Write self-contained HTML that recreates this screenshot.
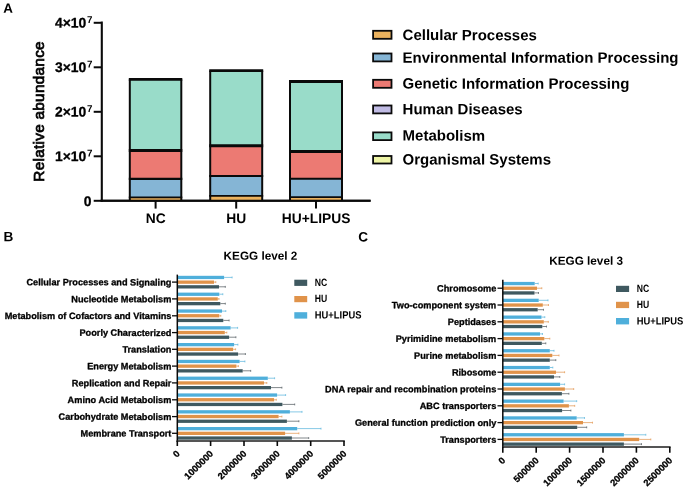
<!DOCTYPE html><html><head><meta charset="utf-8"><title>KEGG</title><style>
html,body{margin:0;padding:0;background:#fff;}
svg{display:block;will-change:transform;}
text{font-family:"Liberation Sans",sans-serif;font-weight:bold;fill:#000;}
.s{stroke:#000;stroke-width:0.3px;stroke-linejoin:round;}
</style></head><body>
<svg width="685" height="489" viewBox="0 0 685 489">
<rect x="0" y="0" width="685" height="489" fill="#ffffff"/>
<text transform="translate(3.2,12.7) rotate(0.03)" font-size="13.4">A</text>
<text transform="translate(44.3,111.4) rotate(-90)" text-anchor="middle" font-size="15.3" style="font-weight:normal;stroke:#000;stroke-width:0.75px;letter-spacing:0.3px">Relative abundance</text>
<line x1="101.8" y1="21.5" x2="101.8" y2="201.75" stroke="#0a0a0a" stroke-width="2.1"/>
<line x1="100.7" y1="200.8" x2="370.6" y2="200.8" stroke="#0a0a0a" stroke-width="1.9"/>
<line x1="93.7" y1="200.8" x2="101" y2="200.8" stroke="#0a0a0a" stroke-width="2"/>
<text transform="translate(91.4,206.1) rotate(0.03)" text-anchor="end" font-size="13.9" class="s">0</text>
<line x1="93.7" y1="156.3" x2="101" y2="156.3" stroke="#0a0a0a" stroke-width="2"/>
<text transform="translate(86.2,161.1) rotate(0.03)" text-anchor="end" font-size="13.9" class="s">1×10</text>
<text transform="translate(87.0,156.6) rotate(0.03)" font-size="9.8">7</text>
<line x1="93.7" y1="111.8" x2="101" y2="111.8" stroke="#0a0a0a" stroke-width="2"/>
<text transform="translate(86.2,116.6) rotate(0.03)" text-anchor="end" font-size="13.9" class="s">2×10</text>
<text transform="translate(87.0,112.1) rotate(0.03)" font-size="9.8">7</text>
<line x1="93.7" y1="67.3" x2="101" y2="67.3" stroke="#0a0a0a" stroke-width="2"/>
<text transform="translate(86.2,72.1) rotate(0.03)" text-anchor="end" font-size="13.9" class="s">3×10</text>
<text transform="translate(87.0,67.6) rotate(0.03)" font-size="9.8">7</text>
<line x1="93.7" y1="22.8" x2="101" y2="22.8" stroke="#0a0a0a" stroke-width="2"/>
<text transform="translate(86.2,27.6) rotate(0.03)" text-anchor="end" font-size="13.9" class="s">4×10</text>
<text transform="translate(87.0,23.1) rotate(0.03)" font-size="9.8">7</text>
<rect x="129.8" y="79.4" width="51.5" height="71.1" fill="#99DCC9"/>
<rect x="129.8" y="150.5" width="51.5" height="28.4" fill="#EC7A73"/>
<rect x="129.8" y="178.9" width="51.5" height="18.5" fill="#85B5D5"/>
<rect x="129.8" y="197.4" width="51.5" height="3.4" fill="#EBB25E"/>
<line x1="128.8" y1="197.4" x2="182.3" y2="197.4" stroke="#0a0a0a" stroke-width="1.7"/>
<line x1="128.8" y1="178.9" x2="182.3" y2="178.9" stroke="#0a0a0a" stroke-width="2.1"/>
<line x1="128.8" y1="150.5" x2="182.3" y2="150.5" stroke="#0a0a0a" stroke-width="3.2"/>
<line x1="128.8" y1="79.4" x2="182.3" y2="79.4" stroke="#0a0a0a" stroke-width="2.6"/>
<line x1="129.8" y1="79.4" x2="129.8" y2="200.8" stroke="#0a0a0a" stroke-width="2"/>
<line x1="181.3" y1="79.4" x2="181.3" y2="200.8" stroke="#0a0a0a" stroke-width="2"/>
<line x1="155.6" y1="200.8" x2="155.6" y2="208.6" stroke="#0a0a0a" stroke-width="2"/>
<text transform="translate(155.7,223.1) rotate(0.03)" text-anchor="middle" font-size="13.8">NC</text>
<rect x="210.2" y="70.6" width="52.0" height="75.2" fill="#99DCC9"/>
<rect x="210.2" y="145.8" width="52.0" height="30.2" fill="#EC7A73"/>
<rect x="210.2" y="176.0" width="52.0" height="19.8" fill="#85B5D5"/>
<rect x="210.2" y="195.8" width="52.0" height="5.0" fill="#EBB25E"/>
<line x1="209.2" y1="195.8" x2="263.2" y2="195.8" stroke="#0a0a0a" stroke-width="1.7"/>
<line x1="209.2" y1="176.0" x2="263.2" y2="176.0" stroke="#0a0a0a" stroke-width="2.1"/>
<line x1="209.2" y1="145.8" x2="263.2" y2="145.8" stroke="#0a0a0a" stroke-width="3.0"/>
<line x1="209.2" y1="70.6" x2="263.2" y2="70.6" stroke="#0a0a0a" stroke-width="2.6"/>
<line x1="210.2" y1="70.6" x2="210.2" y2="200.8" stroke="#0a0a0a" stroke-width="2"/>
<line x1="262.2" y1="70.6" x2="262.2" y2="200.8" stroke="#0a0a0a" stroke-width="2"/>
<line x1="236.2" y1="200.8" x2="236.2" y2="208.6" stroke="#0a0a0a" stroke-width="2"/>
<text transform="translate(236.3,223.1) rotate(0.03)" text-anchor="middle" font-size="13.8">HU</text>
<rect x="290.0" y="81.5" width="52.0" height="69.9" fill="#99DCC9"/>
<rect x="290.0" y="151.4" width="52.0" height="27.3" fill="#EC7A73"/>
<rect x="290.0" y="178.7" width="52.0" height="18.4" fill="#85B5D5"/>
<rect x="290.0" y="197.1" width="52.0" height="3.7" fill="#EBB25E"/>
<line x1="289.0" y1="197.1" x2="343.0" y2="197.1" stroke="#0a0a0a" stroke-width="1.7"/>
<line x1="289.0" y1="178.7" x2="343.0" y2="178.7" stroke="#0a0a0a" stroke-width="2.1"/>
<line x1="289.0" y1="151.4" x2="343.0" y2="151.4" stroke="#0a0a0a" stroke-width="3.0"/>
<line x1="289.0" y1="81.5" x2="343.0" y2="81.5" stroke="#0a0a0a" stroke-width="2.8"/>
<line x1="290.0" y1="81.5" x2="290.0" y2="200.8" stroke="#0a0a0a" stroke-width="2"/>
<line x1="342.0" y1="81.5" x2="342.0" y2="200.8" stroke="#0a0a0a" stroke-width="2"/>
<line x1="316.0" y1="200.8" x2="316.0" y2="208.6" stroke="#0a0a0a" stroke-width="2"/>
<text transform="translate(316.1,223.1) rotate(0.03)" text-anchor="middle" font-size="13.8">HU+LIPUS</text>
<line x1="100.7" y1="200.8" x2="370.6" y2="200.8" stroke="#0a0a0a" stroke-width="1.9"/>
<rect x="373.1" y="30.8" width="18.4" height="8.0" fill="#EBB25E" stroke="#0a0a0a" stroke-width="1.8"/>
<text transform="translate(402.6,40.1) rotate(0.03)" font-size="15">Cellular Processes</text>
<rect x="373.1" y="53.5" width="18.4" height="7.9" fill="#85B5D5" stroke="#0a0a0a" stroke-width="1.8"/>
<text transform="translate(402.6,62.7) rotate(0.03)" font-size="15">Environmental Information Processing</text>
<rect x="373.1" y="79.8" width="18.4" height="8.0" fill="#EC7A73" stroke="#0a0a0a" stroke-width="1.8"/>
<text transform="translate(402.6,88.6) rotate(0.03)" font-size="15">Genetic Information Processing</text>
<rect x="373.1" y="105.5" width="18.4" height="7.9" fill="#C0BBE4" stroke="#0a0a0a" stroke-width="1.8"/>
<text transform="translate(402.6,114.2) rotate(0.03)" font-size="15">Human Diseases</text>
<rect x="373.1" y="132.4" width="18.4" height="7.7" fill="#99DCC9" stroke="#0a0a0a" stroke-width="1.8"/>
<text transform="translate(402.6,140.6) rotate(0.03)" font-size="15">Metabolism</text>
<rect x="373.1" y="156.0" width="18.4" height="7.5" fill="#EEF5A6" stroke="#0a0a0a" stroke-width="1.8"/>
<text transform="translate(402.6,164.5) rotate(0.03)" font-size="15">Organismal Systems</text>
<text transform="translate(3.5,241.3) rotate(0.03)" font-size="13.6">B</text>
<text transform="translate(260.5,259.8) rotate(0.03)" text-anchor="middle" font-size="11.75">KEGG level 2</text>
<rect x="177.3" y="275.8" width="46.8" height="3.3" fill="#4FAFDB"/>
<line x1="224.1" y1="277.4" x2="232.1" y2="277.4" stroke="#5fb7de" stroke-width="0.75"/>
<line x1="232.1" y1="276.5" x2="232.1" y2="278.4" stroke="#5fb7de" stroke-width="0.75"/>
<rect x="177.3" y="280.5" width="36.7" height="3.3" fill="#E0934A"/>
<line x1="214.0" y1="282.1" x2="215.8" y2="282.1" stroke="#e39a55" stroke-width="0.75"/>
<line x1="215.8" y1="281.2" x2="215.8" y2="283.1" stroke="#e39a55" stroke-width="0.75"/>
<rect x="177.3" y="285.2" width="41.7" height="3.3" fill="#3F5960"/>
<line x1="219.0" y1="286.8" x2="225.3" y2="286.8" stroke="#555f63" stroke-width="0.75"/>
<line x1="225.3" y1="285.9" x2="225.3" y2="287.8" stroke="#555f63" stroke-width="0.75"/>
<line x1="172.0" y1="282.1" x2="177.3" y2="282.1" stroke="#0a0a0a" stroke-width="1.3"/>
<text transform="translate(171.4,285.4) rotate(0.03)" text-anchor="end" font-size="9.2" class="s">Cellular Processes and Signaling</text>
<rect x="177.3" y="292.6" width="42.0" height="3.3" fill="#4FAFDB"/>
<line x1="219.3" y1="294.2" x2="222.8" y2="294.2" stroke="#5fb7de" stroke-width="0.75"/>
<line x1="222.8" y1="293.3" x2="222.8" y2="295.2" stroke="#5fb7de" stroke-width="0.75"/>
<rect x="177.3" y="297.3" width="40.5" height="3.3" fill="#E0934A"/>
<line x1="217.8" y1="298.9" x2="219.0" y2="298.9" stroke="#e39a55" stroke-width="0.75"/>
<line x1="219.0" y1="298.0" x2="219.0" y2="299.9" stroke="#e39a55" stroke-width="0.75"/>
<rect x="177.3" y="302.0" width="43.0" height="3.3" fill="#3F5960"/>
<line x1="220.3" y1="303.6" x2="225.3" y2="303.6" stroke="#555f63" stroke-width="0.75"/>
<line x1="225.3" y1="302.7" x2="225.3" y2="304.6" stroke="#555f63" stroke-width="0.75"/>
<line x1="172.0" y1="298.9" x2="177.3" y2="298.9" stroke="#0a0a0a" stroke-width="1.3"/>
<text transform="translate(171.4,302.2) rotate(0.03)" text-anchor="end" font-size="9.2" class="s">Nucleotide Metabolism</text>
<rect x="177.3" y="309.4" width="44.7" height="3.3" fill="#4FAFDB"/>
<line x1="222.0" y1="311.1" x2="225.8" y2="311.1" stroke="#5fb7de" stroke-width="0.75"/>
<line x1="225.8" y1="310.1" x2="225.8" y2="312.0" stroke="#5fb7de" stroke-width="0.75"/>
<rect x="177.3" y="314.1" width="42.0" height="3.3" fill="#E0934A"/>
<line x1="219.3" y1="315.8" x2="220.8" y2="315.8" stroke="#e39a55" stroke-width="0.75"/>
<line x1="220.8" y1="314.8" x2="220.8" y2="316.7" stroke="#e39a55" stroke-width="0.75"/>
<rect x="177.3" y="318.8" width="46.0" height="3.3" fill="#3F5960"/>
<line x1="223.3" y1="320.4" x2="229.1" y2="320.4" stroke="#555f63" stroke-width="0.75"/>
<line x1="229.1" y1="319.5" x2="229.1" y2="321.4" stroke="#555f63" stroke-width="0.75"/>
<line x1="172.0" y1="315.8" x2="177.3" y2="315.8" stroke="#0a0a0a" stroke-width="1.3"/>
<text transform="translate(171.4,319.1) rotate(0.03)" text-anchor="end" font-size="9.2" class="s">Metabolism of Cofactors and Vitamins</text>
<rect x="177.3" y="326.2" width="53.3" height="3.3" fill="#4FAFDB"/>
<line x1="230.6" y1="327.9" x2="237.6" y2="327.9" stroke="#5fb7de" stroke-width="0.75"/>
<line x1="237.6" y1="326.9" x2="237.6" y2="328.8" stroke="#5fb7de" stroke-width="0.75"/>
<rect x="177.3" y="330.9" width="47.5" height="3.3" fill="#E0934A"/>
<line x1="224.8" y1="332.6" x2="226.8" y2="332.6" stroke="#e39a55" stroke-width="0.75"/>
<line x1="226.8" y1="331.6" x2="226.8" y2="333.5" stroke="#e39a55" stroke-width="0.75"/>
<rect x="177.3" y="335.6" width="51.8" height="3.3" fill="#3F5960"/>
<line x1="229.1" y1="337.2" x2="235.9" y2="337.2" stroke="#555f63" stroke-width="0.75"/>
<line x1="235.9" y1="336.3" x2="235.9" y2="338.2" stroke="#555f63" stroke-width="0.75"/>
<line x1="172.0" y1="332.6" x2="177.3" y2="332.6" stroke="#0a0a0a" stroke-width="1.3"/>
<text transform="translate(171.4,335.9) rotate(0.03)" text-anchor="end" font-size="9.2" class="s">Poorly Characterized</text>
<rect x="177.3" y="343.0" width="56.8" height="3.3" fill="#4FAFDB"/>
<line x1="234.1" y1="344.6" x2="237.9" y2="344.6" stroke="#5fb7de" stroke-width="0.75"/>
<line x1="237.9" y1="343.7" x2="237.9" y2="345.6" stroke="#5fb7de" stroke-width="0.75"/>
<rect x="177.3" y="347.7" width="55.8" height="3.3" fill="#E0934A"/>
<line x1="233.1" y1="349.3" x2="235.6" y2="349.3" stroke="#e39a55" stroke-width="0.75"/>
<line x1="235.6" y1="348.4" x2="235.6" y2="350.3" stroke="#e39a55" stroke-width="0.75"/>
<rect x="177.3" y="352.4" width="60.8" height="3.3" fill="#3F5960"/>
<line x1="238.1" y1="354.0" x2="245.4" y2="354.0" stroke="#555f63" stroke-width="0.75"/>
<line x1="245.4" y1="353.1" x2="245.4" y2="355.0" stroke="#555f63" stroke-width="0.75"/>
<line x1="172.0" y1="349.3" x2="177.3" y2="349.3" stroke="#0a0a0a" stroke-width="1.3"/>
<text transform="translate(171.4,352.6) rotate(0.03)" text-anchor="end" font-size="9.2" class="s">Translation</text>
<rect x="177.3" y="359.8" width="62.3" height="3.3" fill="#4FAFDB"/>
<line x1="239.6" y1="361.4" x2="244.9" y2="361.4" stroke="#5fb7de" stroke-width="0.75"/>
<line x1="244.9" y1="360.5" x2="244.9" y2="362.4" stroke="#5fb7de" stroke-width="0.75"/>
<rect x="177.3" y="364.5" width="59.1" height="3.3" fill="#E0934A"/>
<line x1="236.4" y1="366.1" x2="238.4" y2="366.1" stroke="#e39a55" stroke-width="0.75"/>
<line x1="238.4" y1="365.2" x2="238.4" y2="367.1" stroke="#e39a55" stroke-width="0.75"/>
<rect x="177.3" y="369.2" width="65.4" height="3.3" fill="#3F5960"/>
<line x1="242.7" y1="370.8" x2="250.7" y2="370.8" stroke="#555f63" stroke-width="0.75"/>
<line x1="250.7" y1="369.9" x2="250.7" y2="371.8" stroke="#555f63" stroke-width="0.75"/>
<line x1="172.0" y1="366.1" x2="177.3" y2="366.1" stroke="#0a0a0a" stroke-width="1.3"/>
<text transform="translate(171.4,369.4) rotate(0.03)" text-anchor="end" font-size="9.2" class="s">Energy Metabolism</text>
<rect x="177.3" y="376.6" width="90.5" height="3.3" fill="#4FAFDB"/>
<line x1="267.8" y1="378.2" x2="274.6" y2="378.2" stroke="#5fb7de" stroke-width="0.75"/>
<line x1="274.6" y1="377.3" x2="274.6" y2="379.2" stroke="#5fb7de" stroke-width="0.75"/>
<rect x="177.3" y="381.3" width="86.7" height="3.3" fill="#E0934A"/>
<line x1="264.0" y1="382.9" x2="266.8" y2="382.9" stroke="#e39a55" stroke-width="0.75"/>
<line x1="266.8" y1="382.0" x2="266.8" y2="383.9" stroke="#e39a55" stroke-width="0.75"/>
<rect x="177.3" y="386.0" width="93.7" height="3.3" fill="#3F5960"/>
<line x1="271.0" y1="387.6" x2="281.9" y2="387.6" stroke="#555f63" stroke-width="0.75"/>
<line x1="281.9" y1="386.7" x2="281.9" y2="388.6" stroke="#555f63" stroke-width="0.75"/>
<line x1="172.0" y1="382.9" x2="177.3" y2="382.9" stroke="#0a0a0a" stroke-width="1.3"/>
<text transform="translate(171.4,386.2) rotate(0.03)" text-anchor="end" font-size="9.2" class="s">Replication and Repair</text>
<rect x="177.3" y="393.4" width="99.8" height="3.3" fill="#4FAFDB"/>
<line x1="277.1" y1="395.1" x2="285.6" y2="395.1" stroke="#5fb7de" stroke-width="0.75"/>
<line x1="285.6" y1="394.1" x2="285.6" y2="396.0" stroke="#5fb7de" stroke-width="0.75"/>
<rect x="177.3" y="398.1" width="96.8" height="3.3" fill="#E0934A"/>
<line x1="274.1" y1="399.8" x2="276.3" y2="399.8" stroke="#e39a55" stroke-width="0.75"/>
<line x1="276.3" y1="398.8" x2="276.3" y2="400.7" stroke="#e39a55" stroke-width="0.75"/>
<rect x="177.3" y="402.8" width="105.1" height="3.3" fill="#3F5960"/>
<line x1="282.4" y1="404.4" x2="294.7" y2="404.4" stroke="#555f63" stroke-width="0.75"/>
<line x1="294.7" y1="403.5" x2="294.7" y2="405.4" stroke="#555f63" stroke-width="0.75"/>
<line x1="172.0" y1="399.8" x2="177.3" y2="399.8" stroke="#0a0a0a" stroke-width="1.3"/>
<text transform="translate(171.4,403.1) rotate(0.03)" text-anchor="end" font-size="9.2" class="s">Amino Acid Metabolism</text>
<rect x="177.3" y="410.2" width="112.6" height="3.3" fill="#4FAFDB"/>
<line x1="289.9" y1="411.9" x2="302.0" y2="411.9" stroke="#5fb7de" stroke-width="0.75"/>
<line x1="302.0" y1="410.9" x2="302.0" y2="412.8" stroke="#5fb7de" stroke-width="0.75"/>
<rect x="177.3" y="414.9" width="101.3" height="3.3" fill="#E0934A"/>
<line x1="278.6" y1="416.6" x2="281.9" y2="416.6" stroke="#e39a55" stroke-width="0.75"/>
<line x1="281.9" y1="415.6" x2="281.9" y2="417.5" stroke="#e39a55" stroke-width="0.75"/>
<rect x="177.3" y="419.6" width="109.6" height="3.3" fill="#3F5960"/>
<line x1="286.9" y1="421.2" x2="298.9" y2="421.2" stroke="#555f63" stroke-width="0.75"/>
<line x1="298.9" y1="420.3" x2="298.9" y2="422.2" stroke="#555f63" stroke-width="0.75"/>
<line x1="172.0" y1="416.6" x2="177.3" y2="416.6" stroke="#0a0a0a" stroke-width="1.3"/>
<text transform="translate(171.4,419.9) rotate(0.03)" text-anchor="end" font-size="9.2" class="s">Carbohydrate Metabolism</text>
<rect x="177.3" y="427.0" width="119.9" height="3.3" fill="#4FAFDB"/>
<line x1="297.2" y1="428.6" x2="321.0" y2="428.6" stroke="#5fb7de" stroke-width="0.75"/>
<line x1="321.0" y1="427.7" x2="321.0" y2="429.6" stroke="#5fb7de" stroke-width="0.75"/>
<rect x="177.3" y="431.7" width="107.8" height="3.3" fill="#E0934A"/>
<line x1="285.1" y1="433.3" x2="298.9" y2="433.3" stroke="#e39a55" stroke-width="0.75"/>
<line x1="298.9" y1="432.4" x2="298.9" y2="434.3" stroke="#e39a55" stroke-width="0.75"/>
<rect x="177.3" y="436.4" width="114.6" height="3.3" fill="#3F5960"/>
<line x1="291.9" y1="438.0" x2="308.7" y2="438.0" stroke="#555f63" stroke-width="0.75"/>
<line x1="308.7" y1="437.1" x2="308.7" y2="439.0" stroke="#555f63" stroke-width="0.75"/>
<line x1="172.0" y1="433.3" x2="177.3" y2="433.3" stroke="#0a0a0a" stroke-width="1.3"/>
<text transform="translate(171.4,436.6) rotate(0.03)" text-anchor="end" font-size="9.2" class="s">Membrane Transport</text>
<line x1="177.3" y1="274.6" x2="177.3" y2="441.8" stroke="#0a0a0a" stroke-width="1.5"/>
<line x1="176.55" y1="441.0" x2="344.8" y2="441.0" stroke="#1c1c1c" stroke-width="1.6"/>
<line x1="177.3" y1="441.0" x2="177.3" y2="446.0" stroke="#0a0a0a" stroke-width="1.6"/>
<text transform="translate(180.4,454.4) rotate(-45)" text-anchor="end" font-size="9.3" class="s">0</text>
<line x1="210.6" y1="441.0" x2="210.6" y2="446.0" stroke="#0a0a0a" stroke-width="1.6"/>
<text transform="translate(213.7,454.4) rotate(-45)" text-anchor="end" font-size="9.3" class="s">1000000</text>
<line x1="244.0" y1="441.0" x2="244.0" y2="446.0" stroke="#0a0a0a" stroke-width="1.6"/>
<text transform="translate(247.1,454.4) rotate(-45)" text-anchor="end" font-size="9.3" class="s">2000000</text>
<line x1="277.3" y1="441.0" x2="277.3" y2="446.0" stroke="#0a0a0a" stroke-width="1.6"/>
<text transform="translate(280.4,454.4) rotate(-45)" text-anchor="end" font-size="9.3" class="s">3000000</text>
<line x1="310.7" y1="441.0" x2="310.7" y2="446.0" stroke="#0a0a0a" stroke-width="1.6"/>
<text transform="translate(313.8,454.4) rotate(-45)" text-anchor="end" font-size="9.3" class="s">4000000</text>
<line x1="344.0" y1="441.0" x2="344.0" y2="446.0" stroke="#0a0a0a" stroke-width="1.6"/>
<text transform="translate(347.1,454.4) rotate(-45)" text-anchor="end" font-size="9.3" class="s">5000000</text>
<rect x="294.3" y="279.7" width="12.9" height="6.2" fill="#3F5960"/>
<text transform="translate(314.8,286.3) rotate(0.03) scale(0.815,1)" font-size="10.6">NC</text>
<rect x="294.3" y="296.0" width="12.9" height="6.2" fill="#E0934A"/>
<text transform="translate(314.8,302.0) rotate(0.03) scale(0.815,1)" font-size="10.6">HU</text>
<rect x="294.3" y="312.2" width="12.9" height="6.4" fill="#4FAFDB"/>
<text transform="translate(314.8,318.4) rotate(0.03) scale(0.885,1)" font-size="10.6">HU+LIPUS</text>
<text transform="translate(358.3,241.6) rotate(0.03)" font-size="13.6">C</text>
<text transform="translate(586.1,264.8) rotate(0.03)" text-anchor="middle" font-size="11.75">KEGG level 3</text>
<rect x="502.8" y="281.9" width="31.9" height="3.3" fill="#4FAFDB"/>
<line x1="534.7" y1="283.5" x2="538.2" y2="283.5" stroke="#5fb7de" stroke-width="0.75"/>
<line x1="538.2" y1="282.6" x2="538.2" y2="284.5" stroke="#5fb7de" stroke-width="0.75"/>
<rect x="502.8" y="286.6" width="34.2" height="3.3" fill="#E0934A"/>
<line x1="537.0" y1="288.2" x2="541.8" y2="288.2" stroke="#e39a55" stroke-width="0.75"/>
<line x1="541.8" y1="287.3" x2="541.8" y2="289.2" stroke="#e39a55" stroke-width="0.75"/>
<rect x="502.8" y="291.3" width="31.7" height="3.3" fill="#3F5960"/>
<line x1="534.5" y1="292.9" x2="538.5" y2="292.9" stroke="#555f63" stroke-width="0.75"/>
<line x1="538.5" y1="292.0" x2="538.5" y2="293.9" stroke="#555f63" stroke-width="0.75"/>
<line x1="497.5" y1="288.2" x2="502.8" y2="288.2" stroke="#0a0a0a" stroke-width="1.3"/>
<text transform="translate(496.3,291.5) rotate(0.03)" text-anchor="end" font-size="9.2" class="s">Chromosome</text>
<rect x="502.8" y="298.7" width="35.9" height="3.3" fill="#4FAFDB"/>
<line x1="538.7" y1="300.3" x2="548.0" y2="300.3" stroke="#5fb7de" stroke-width="0.75"/>
<line x1="548.0" y1="299.4" x2="548.0" y2="301.3" stroke="#5fb7de" stroke-width="0.75"/>
<rect x="502.8" y="303.4" width="40.0" height="3.3" fill="#E0934A"/>
<line x1="542.8" y1="305.0" x2="548.5" y2="305.0" stroke="#e39a55" stroke-width="0.75"/>
<line x1="548.5" y1="304.1" x2="548.5" y2="306.0" stroke="#e39a55" stroke-width="0.75"/>
<rect x="502.8" y="308.1" width="34.9" height="3.3" fill="#3F5960"/>
<line x1="537.7" y1="309.7" x2="543.5" y2="309.7" stroke="#555f63" stroke-width="0.75"/>
<line x1="543.5" y1="308.8" x2="543.5" y2="310.7" stroke="#555f63" stroke-width="0.75"/>
<line x1="497.5" y1="305.0" x2="502.8" y2="305.0" stroke="#0a0a0a" stroke-width="1.3"/>
<text transform="translate(496.3,308.3) rotate(0.03)" text-anchor="end" font-size="9.2" class="s">Two-component system</text>
<rect x="502.8" y="315.5" width="38.7" height="3.3" fill="#4FAFDB"/>
<line x1="541.5" y1="317.1" x2="544.8" y2="317.1" stroke="#5fb7de" stroke-width="0.75"/>
<line x1="544.8" y1="316.2" x2="544.8" y2="318.1" stroke="#5fb7de" stroke-width="0.75"/>
<rect x="502.8" y="320.2" width="41.0" height="3.3" fill="#E0934A"/>
<line x1="543.8" y1="321.8" x2="548.3" y2="321.8" stroke="#e39a55" stroke-width="0.75"/>
<line x1="548.3" y1="320.9" x2="548.3" y2="322.8" stroke="#e39a55" stroke-width="0.75"/>
<rect x="502.8" y="324.9" width="39.5" height="3.3" fill="#3F5960"/>
<line x1="542.3" y1="326.5" x2="546.5" y2="326.5" stroke="#555f63" stroke-width="0.75"/>
<line x1="546.5" y1="325.6" x2="546.5" y2="327.5" stroke="#555f63" stroke-width="0.75"/>
<line x1="497.5" y1="321.8" x2="502.8" y2="321.8" stroke="#0a0a0a" stroke-width="1.3"/>
<text transform="translate(496.3,325.1) rotate(0.03)" text-anchor="end" font-size="9.2" class="s">Peptidases</text>
<rect x="502.8" y="332.3" width="37.2" height="3.3" fill="#4FAFDB"/>
<line x1="540.0" y1="333.9" x2="542.5" y2="333.9" stroke="#5fb7de" stroke-width="0.75"/>
<line x1="542.5" y1="333.0" x2="542.5" y2="334.9" stroke="#5fb7de" stroke-width="0.75"/>
<rect x="502.8" y="337.0" width="41.5" height="3.3" fill="#E0934A"/>
<line x1="544.3" y1="338.6" x2="549.8" y2="338.6" stroke="#e39a55" stroke-width="0.75"/>
<line x1="549.8" y1="337.7" x2="549.8" y2="339.6" stroke="#e39a55" stroke-width="0.75"/>
<rect x="502.8" y="341.7" width="39.0" height="3.3" fill="#3F5960"/>
<line x1="541.8" y1="343.3" x2="545.8" y2="343.3" stroke="#555f63" stroke-width="0.75"/>
<line x1="545.8" y1="342.4" x2="545.8" y2="344.3" stroke="#555f63" stroke-width="0.75"/>
<line x1="497.5" y1="338.6" x2="502.8" y2="338.6" stroke="#0a0a0a" stroke-width="1.3"/>
<text transform="translate(496.3,341.9) rotate(0.03)" text-anchor="end" font-size="9.2" class="s">Pyrimidine metabolism</text>
<rect x="502.8" y="349.1" width="47.0" height="3.3" fill="#4FAFDB"/>
<line x1="549.8" y1="350.7" x2="554.0" y2="350.7" stroke="#5fb7de" stroke-width="0.75"/>
<line x1="554.0" y1="349.8" x2="554.0" y2="351.7" stroke="#5fb7de" stroke-width="0.75"/>
<rect x="502.8" y="353.8" width="49.5" height="3.3" fill="#E0934A"/>
<line x1="552.3" y1="355.4" x2="559.0" y2="355.4" stroke="#e39a55" stroke-width="0.75"/>
<line x1="559.0" y1="354.5" x2="559.0" y2="356.4" stroke="#e39a55" stroke-width="0.75"/>
<rect x="502.8" y="358.5" width="47.0" height="3.3" fill="#3F5960"/>
<line x1="549.8" y1="360.1" x2="555.8" y2="360.1" stroke="#555f63" stroke-width="0.75"/>
<line x1="555.8" y1="359.2" x2="555.8" y2="361.1" stroke="#555f63" stroke-width="0.75"/>
<line x1="497.5" y1="355.4" x2="502.8" y2="355.4" stroke="#0a0a0a" stroke-width="1.3"/>
<text transform="translate(496.3,358.7) rotate(0.03)" text-anchor="end" font-size="9.2" class="s">Purine metabolism</text>
<rect x="502.8" y="365.9" width="47.0" height="3.3" fill="#4FAFDB"/>
<line x1="549.8" y1="367.5" x2="552.8" y2="367.5" stroke="#5fb7de" stroke-width="0.75"/>
<line x1="552.8" y1="366.6" x2="552.8" y2="368.5" stroke="#5fb7de" stroke-width="0.75"/>
<rect x="502.8" y="370.6" width="53.2" height="3.3" fill="#E0934A"/>
<line x1="556.0" y1="372.2" x2="564.6" y2="372.2" stroke="#e39a55" stroke-width="0.75"/>
<line x1="564.6" y1="371.3" x2="564.6" y2="373.2" stroke="#e39a55" stroke-width="0.75"/>
<rect x="502.8" y="375.3" width="51.2" height="3.3" fill="#3F5960"/>
<line x1="554.0" y1="376.9" x2="559.8" y2="376.9" stroke="#555f63" stroke-width="0.75"/>
<line x1="559.8" y1="376.0" x2="559.8" y2="377.9" stroke="#555f63" stroke-width="0.75"/>
<line x1="497.5" y1="372.2" x2="502.8" y2="372.2" stroke="#0a0a0a" stroke-width="1.3"/>
<text transform="translate(496.3,375.5) rotate(0.03)" text-anchor="end" font-size="9.2" class="s">Ribosome</text>
<rect x="502.8" y="382.7" width="57.3" height="3.3" fill="#4FAFDB"/>
<line x1="560.1" y1="384.3" x2="564.6" y2="384.3" stroke="#5fb7de" stroke-width="0.75"/>
<line x1="564.6" y1="383.4" x2="564.6" y2="385.3" stroke="#5fb7de" stroke-width="0.75"/>
<rect x="502.8" y="387.4" width="62.1" height="3.3" fill="#E0934A"/>
<line x1="564.9" y1="389.0" x2="573.7" y2="389.0" stroke="#e39a55" stroke-width="0.75"/>
<line x1="573.7" y1="388.1" x2="573.7" y2="390.0" stroke="#e39a55" stroke-width="0.75"/>
<rect x="502.8" y="392.1" width="59.1" height="3.3" fill="#3F5960"/>
<line x1="561.9" y1="393.7" x2="568.9" y2="393.7" stroke="#555f63" stroke-width="0.75"/>
<line x1="568.9" y1="392.8" x2="568.9" y2="394.7" stroke="#555f63" stroke-width="0.75"/>
<line x1="497.5" y1="389.0" x2="502.8" y2="389.0" stroke="#0a0a0a" stroke-width="1.3"/>
<text transform="translate(496.3,392.3) rotate(0.03)" text-anchor="end" font-size="9.2" class="s">DNA repair and recombination proteins</text>
<rect x="502.8" y="399.5" width="60.8" height="3.3" fill="#4FAFDB"/>
<line x1="563.6" y1="401.1" x2="576.7" y2="401.1" stroke="#5fb7de" stroke-width="0.75"/>
<line x1="576.7" y1="400.2" x2="576.7" y2="402.1" stroke="#5fb7de" stroke-width="0.75"/>
<rect x="502.8" y="404.2" width="66.1" height="3.3" fill="#E0934A"/>
<line x1="568.9" y1="405.8" x2="574.7" y2="405.8" stroke="#e39a55" stroke-width="0.75"/>
<line x1="574.7" y1="404.9" x2="574.7" y2="406.8" stroke="#e39a55" stroke-width="0.75"/>
<rect x="502.8" y="408.9" width="59.3" height="3.3" fill="#3F5960"/>
<line x1="562.1" y1="410.5" x2="570.9" y2="410.5" stroke="#555f63" stroke-width="0.75"/>
<line x1="570.9" y1="409.6" x2="570.9" y2="411.5" stroke="#555f63" stroke-width="0.75"/>
<line x1="497.5" y1="405.8" x2="502.8" y2="405.8" stroke="#0a0a0a" stroke-width="1.3"/>
<text transform="translate(496.3,409.1) rotate(0.03)" text-anchor="end" font-size="9.2" class="s">ABC transporters</text>
<rect x="502.8" y="416.3" width="73.9" height="3.3" fill="#4FAFDB"/>
<line x1="576.7" y1="417.9" x2="584.5" y2="417.9" stroke="#5fb7de" stroke-width="0.75"/>
<line x1="584.5" y1="417.0" x2="584.5" y2="418.9" stroke="#5fb7de" stroke-width="0.75"/>
<rect x="502.8" y="421.0" width="80.2" height="3.3" fill="#E0934A"/>
<line x1="583.0" y1="422.6" x2="592.5" y2="422.6" stroke="#e39a55" stroke-width="0.75"/>
<line x1="592.5" y1="421.7" x2="592.5" y2="423.6" stroke="#e39a55" stroke-width="0.75"/>
<rect x="502.8" y="425.7" width="74.4" height="3.3" fill="#3F5960"/>
<line x1="577.2" y1="427.3" x2="586.7" y2="427.3" stroke="#555f63" stroke-width="0.75"/>
<line x1="586.7" y1="426.4" x2="586.7" y2="428.3" stroke="#555f63" stroke-width="0.75"/>
<line x1="497.5" y1="422.6" x2="502.8" y2="422.6" stroke="#0a0a0a" stroke-width="1.3"/>
<text transform="translate(496.3,425.9) rotate(0.03)" text-anchor="end" font-size="9.2" class="s">General function prediction only</text>
<rect x="502.8" y="433.1" width="121.1" height="3.3" fill="#4FAFDB"/>
<line x1="623.9" y1="434.8" x2="645.8" y2="434.8" stroke="#5fb7de" stroke-width="0.75"/>
<line x1="645.8" y1="433.8" x2="645.8" y2="435.7" stroke="#5fb7de" stroke-width="0.75"/>
<rect x="502.8" y="437.8" width="136.4" height="3.3" fill="#E0934A"/>
<line x1="639.2" y1="439.4" x2="650.8" y2="439.4" stroke="#e39a55" stroke-width="0.75"/>
<line x1="650.8" y1="438.5" x2="650.8" y2="440.4" stroke="#e39a55" stroke-width="0.75"/>
<rect x="502.8" y="442.5" width="121.1" height="3.3" fill="#3F5960"/>
<line x1="623.9" y1="444.1" x2="641.5" y2="444.1" stroke="#555f63" stroke-width="0.75"/>
<line x1="641.5" y1="443.2" x2="641.5" y2="445.1" stroke="#555f63" stroke-width="0.75"/>
<line x1="497.5" y1="439.4" x2="502.8" y2="439.4" stroke="#0a0a0a" stroke-width="1.3"/>
<text transform="translate(496.3,442.8) rotate(0.03)" text-anchor="end" font-size="9.2" class="s">Transporters</text>
<line x1="502.8" y1="279.8" x2="502.8" y2="447.8" stroke="#0a0a0a" stroke-width="1.5"/>
<line x1="502.05" y1="447.0" x2="670.6" y2="447.0" stroke="#1c1c1c" stroke-width="1.6"/>
<line x1="502.8" y1="447.0" x2="502.8" y2="452.7" stroke="#0a0a0a" stroke-width="1.6"/>
<text transform="translate(505.9,461.1) rotate(-45)" text-anchor="end" font-size="9.3" class="s">0</text>
<line x1="536.2" y1="447.0" x2="536.2" y2="452.7" stroke="#0a0a0a" stroke-width="1.6"/>
<text transform="translate(539.3,461.1) rotate(-45)" text-anchor="end" font-size="9.3" class="s">500000</text>
<line x1="569.6" y1="447.0" x2="569.6" y2="452.7" stroke="#0a0a0a" stroke-width="1.6"/>
<text transform="translate(572.7,461.1) rotate(-45)" text-anchor="end" font-size="9.3" class="s">1000000</text>
<line x1="603.0" y1="447.0" x2="603.0" y2="452.7" stroke="#0a0a0a" stroke-width="1.6"/>
<text transform="translate(606.1,461.1) rotate(-45)" text-anchor="end" font-size="9.3" class="s">1500000</text>
<line x1="636.4" y1="447.0" x2="636.4" y2="452.7" stroke="#0a0a0a" stroke-width="1.6"/>
<text transform="translate(639.5,461.1) rotate(-45)" text-anchor="end" font-size="9.3" class="s">2000000</text>
<line x1="669.8" y1="447.0" x2="669.8" y2="452.7" stroke="#0a0a0a" stroke-width="1.6"/>
<text transform="translate(672.9,461.1) rotate(-45)" text-anchor="end" font-size="9.3" class="s">2500000</text>
<rect x="616.0" y="285.8" width="13.1" height="6.2" fill="#3F5960"/>
<text transform="translate(636.7,292.0) rotate(0.03) scale(0.815,1)" font-size="10.6">NC</text>
<rect x="616.0" y="301.8" width="13.1" height="6.3" fill="#E0934A"/>
<text transform="translate(636.7,308.1) rotate(0.03) scale(0.815,1)" font-size="10.6">HU</text>
<rect x="616.0" y="318.0" width="13.1" height="6.4" fill="#4FAFDB"/>
<text transform="translate(636.7,324.6) rotate(0.03) scale(0.885,1)" font-size="10.6">HU+LIPUS</text>
</svg></body></html>
